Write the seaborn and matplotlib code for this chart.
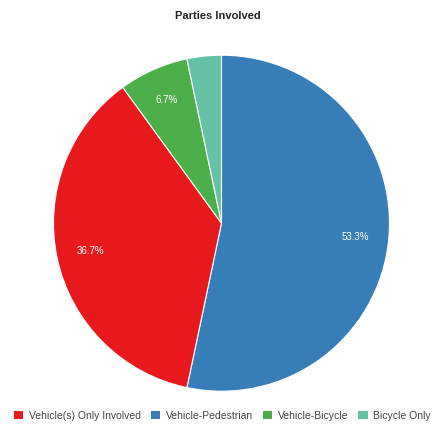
import matplotlib
matplotlib.use("Agg")
import matplotlib.pyplot as plt
import seaborn as sns
from matplotlib.patches import Patch

# Data (draw order = clockwise from 12 o'clock)
parties = ["Vehicle-Pedestrian", "Vehicle(s) Only Involved", "Vehicle-Bicycle", "Bicycle Only"]
shares = [53.3, 36.7, 6.7, 3.3]
legend_order = ["Vehicle(s) Only Involved", "Vehicle-Pedestrian", "Vehicle-Bicycle", "Bicycle Only"]

sns.set_theme(style="white")
plt.rcParams["font.family"] = ["Liberation Sans", "DejaVu Sans"]

colors = {
    "Vehicle(s) Only Involved": "#e8191c",
    "Vehicle-Pedestrian": "#377eb8",
    "Vehicle-Bicycle": "#4daf4a",
    "Bicycle Only": "#66c2a5",
}

fig = plt.figure(figsize=(4.36, 4.28), dpi=100)
ax = fig.add_axes([0.119, 0.086, 0.778, 0.785])

wedges, texts, autotexts = ax.pie(
    shares,
    colors=[colors[p] for p in parties],
    startangle=90,
    counterclock=False,
    autopct=lambda p: f"{p:.1f}%" if p > 5 else "",
    pctdistance=0.8,
    wedgeprops=dict(edgecolor="white", linewidth=0.8),
    textprops=dict(color="white", fontsize=7),
)
ax.set_xlim(-1.0, 1.0)
ax.set_ylim(-1.0, 1.0)
ax.set_aspect("equal")

fig.suptitle("Parties Involved", y=0.975, fontsize=8, fontweight="bold", color="#222222")

handles = [Patch(facecolor=colors[p], edgecolor="none", label=p) for p in legend_order]
fig.legend(handles=handles, loc="lower center", bbox_to_anchor=(0.51, -0.005),
           ncol=4, frameon=False, fontsize=7.5, handlelength=0.9, handleheight=0.9,
           handletextpad=0.55, columnspacing=0.95, labelcolor="#444444")

fig.savefig("out.png", dpi=100)
